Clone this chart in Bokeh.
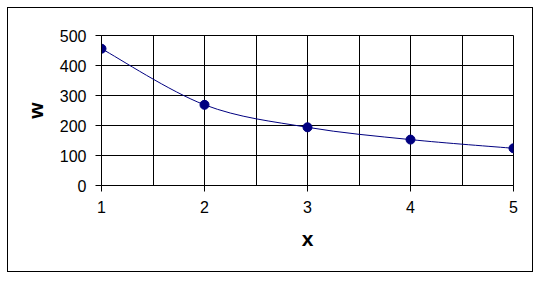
from bokeh.plotting import figure
from bokeh.models import FixedTicker, ColumnDataSource
from bokeh.embed import file_html
from bokeh.resources import INLINE

x_vals = [1, 2, 3, 4, 5]
w_vals = [456, 269, 194, 153, 124]
x_ticks = [1, 2, 3, 4, 5]
x_grid = [1.5, 2, 2.5, 3, 3.5, 4, 4.5]
y_ticks = [0, 100, 200, 300, 400, 500]

NAVY = "#000080"
FONT = "Liberation Sans"

p = figure(width=526, height=265, output_backend="svg", toolbar_location=None,
           x_range=(1, 5), y_range=(0, 500),
           min_border_left=93, min_border_right=21,
           min_border_top=27, min_border_bottom=88)
p.styles = {"margin-left": "7px", "margin-top": "7px", "border": "1px solid black"}
p.background_fill_color = "white"
p.border_fill_color = "white"
p.outline_line_color = "black"
p.outline_line_width = 1

for ax in (p.xaxis[0], p.yaxis[0]):
    ax.axis_line_color = "black"
    ax.major_tick_line_color = "black"
    ax.major_tick_in = 0
    ax.major_tick_out = 6
    ax.minor_tick_line_color = None
    ax.major_label_text_font = FONT
    ax.major_label_text_font_size = "16px"
    ax.major_label_text_color = "black"
    ax.axis_label_text_font = FONT
    ax.axis_label_text_font_size = "21px"
    ax.axis_label_text_font_style = "bold"
    ax.axis_label_text_color = "black"

p.xaxis.ticker = FixedTicker(ticks=x_ticks)
p.yaxis.ticker = FixedTicker(ticks=y_ticks)
p.xaxis.axis_label = "x"
p.yaxis.axis_label = "w"
p.xaxis.major_label_standoff = 9
p.yaxis.major_label_standoff = 9
p.xaxis.axis_label_standoff = 11
p.yaxis.axis_label_standoff = 10

p.xgrid.ticker = FixedTicker(ticks=x_grid)
p.ygrid.ticker = FixedTicker(ticks=[100, 200, 300, 400])
p.xgrid.grid_line_color = "black"
p.ygrid.grid_line_color = "black"
p.xgrid.grid_line_width = 1
p.ygrid.grid_line_width = 1

# smooth curve (Excel-style Bezier through the points)
n = len(x_vals)
x0, y0, x1, y1, cx0, cy0, cx1, cy1 = [], [], [], [], [], [], [], []
for i in range(n - 1):
    pm = i - 1 if i > 0 else 0
    pp = i + 2 if i + 2 < n else n - 1
    x0.append(x_vals[i]); y0.append(w_vals[i])
    x1.append(x_vals[i + 1]); y1.append(w_vals[i + 1])
    cx0.append(x_vals[i] + (x_vals[i + 1] - x_vals[pm]) / 6)
    cy0.append(w_vals[i] + (w_vals[i + 1] - w_vals[pm]) / 6)
    cx1.append(x_vals[i + 1] - (x_vals[pp] - x_vals[i]) / 6)
    cy1.append(w_vals[i + 1] - (w_vals[pp] - w_vals[i]) / 6)
p.bezier(x0=x0, y0=y0, x1=x1, y1=y1, cx0=cx0, cy0=cy0, cx1=cx1, cy1=cy1,
         line_color=NAVY, line_width=1)

src = ColumnDataSource(dict(x=x_vals, w=w_vals))
p.scatter("x", "w", source=src, size=9, fill_color=NAVY, line_color=NAVY, line_width=1)

open("out.html", "w").write(file_html(p, INLINE))
